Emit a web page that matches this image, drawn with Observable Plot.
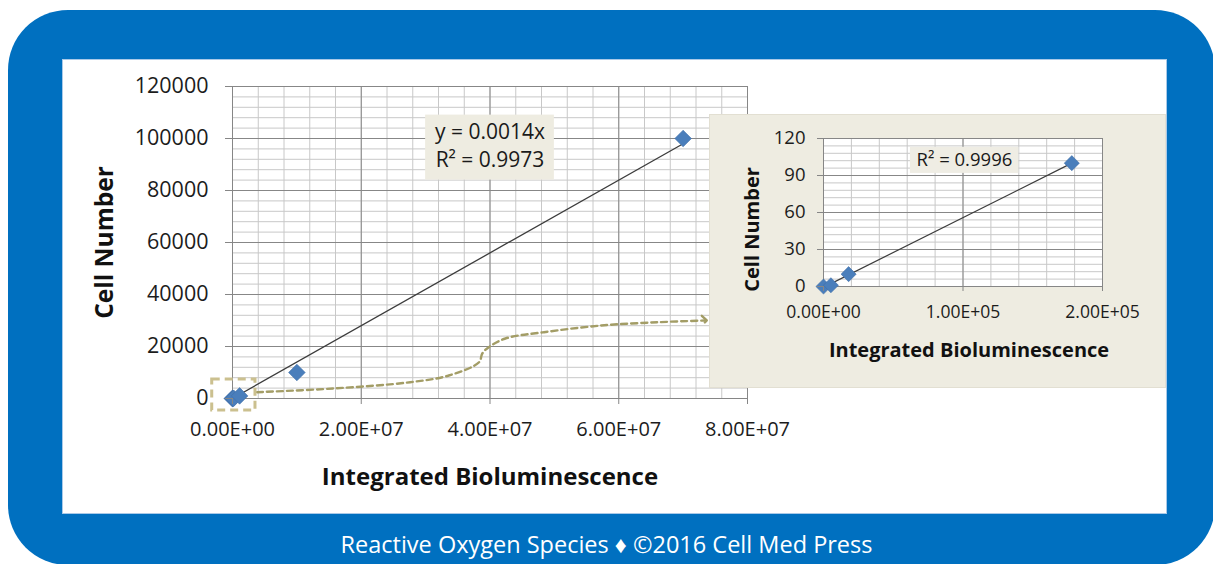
<!DOCTYPE html>
<html>
<head>
<meta charset="utf-8">
<script src="https://cdn.jsdelivr.net/npm/d3@7"></script>
<script src="https://cdn.jsdelivr.net/npm/@observablehq/plot@0.6"></script>
<style>
  html, body { margin: 0; padding: 0; background: #ffffff; }
  #page { position: relative; width: 1213px; height: 564px; overflow: hidden; font-family: "Open Sans", sans-serif; background: #ffffff; }
  #frame { position: absolute; left: 8px; top: 10px; width: 1207px; height: 555px; background: #0070C0; border-radius: 60px; }
  #inner { position: absolute; left: 63px; top: 60px; width: 1103px; height: 453px; background: #ffffff; box-shadow: 0 0 0 1px #a9c9e8; }
  #main { position: absolute; left: 63px; top: 60px; width: 700px; height: 440px; }
  #inset { position: absolute; left: 710px; top: 115px; width: 455px; height: 272px; background: #EEECE1; box-shadow: 0 0 0 1px #e2dfd2; }
  #caption { position: absolute; left: 0; top: 528px; width: 1213px; text-align: center; color: #ffffff; font-size: 23.5px; line-height: 32px; font-family: "Open Sans", sans-serif; }
</style>
</head>
<body>
<div id="page">
  <div id="frame"></div>
  <div id="inner"></div>
  <div id="main"></div>
  <div id="inset"></div>
  <div id="caption">Reactive Oxygen Species ♦ ©2016 Cell Med Press</div>
</div>
<script>
// ---- data ----
const mainBio   = [0, 5300, 18000, 178000, 1100000, 10000000, 70000000];
const mainCells = [0, 1, 10, 100, 1000, 10000, 100000];
const insetBio   = [0, 5300, 18000, 178000];
const insetCells = [0, 1, 10, 100];

const mainXTicks = [0, 2e7, 4e7, 6e7, 8e7];
const mainXTickLabels = ["0.00E+00", "2.00E+07", "4.00E+07", "6.00E+07", "8.00E+07"];
const mainYTicks = [0, 20000, 40000, 60000, 80000, 100000, 120000];
const mainYTickLabels = ["0", "20000", "40000", "60000", "80000", "100000", "120000"];
const insetXTicks = [0, 1e5, 2e5];
const insetXTickLabels = ["0.00E+00", "1.00E+05", "2.00E+05"];
const insetYTicks = [0, 30, 60, 90, 120];
const insetYTickLabels = ["0", "30", "60", "90", "120"];

const mainSlope = 0.0014;
const mainEquationLines = ["y = 0.0014x", "R² = 0.9973"];
const insetEquationLines = ["R² = 0.9996"];

const xTitle = "Integrated Bioluminescence";
const yTitle = "Cell Number";

// annotation anchors (data units of the main chart)
const mainLabelBox = {x1: 3.0e7, x2: 5.0e7, y1: 84000, y2: 109000};
const mainLabelAnchors = [{x: 4.0e7, y: 102400}, {x: 4.0e7, y: 91500}];
const zoomBox = {x1: -3.15e6, x2: 3.57e6, y1: -4600, y2: 7300};
const calloutPath = [
  [3.81e6, 2420], [1.57e7, 3850], [2.76e7, 6270], [3.36e7, 8850], [3.83e7, 13960],
  [3.88e7, 17300], [3.98e7, 19730], [4.24e7, 23080], [4.84e7, 25500], [5.73e7, 28080],
  [6.62e7, 29350], [7.33e7, 30000]
];
// annotation anchors (data units of the inset)
const insetLabelBox = {x1: 6.23e4, x2: 1.40e5, y1: 91.7, y2: 112.9};
const insetLabelAnchor = {x: 1.01e5, y: 102.3};

// ---- build tables ----
const mainData = mainBio.map((b, i) => ({bio: b, cells: mainCells[i]}));
const insetData = insetBio.map((b, i) => ({bio: b, cells: insetCells[i]}));
const maxBio = d3.max(mainBio);
const trend = [{bio: 0, cells: 0}, {bio: maxBio, cells: maxBio * mainSlope}];

const mainXMinor = d3.range(0, 8e7 + 1, 4e6);
const mainYMinor = d3.range(0, 120000 + 1, 4000);
const insetXMinor = d3.range(0, 2e5 + 1, 2e4);
const insetYMinor = d3.range(0, 120 + 0.1, 6);

const font = "'Open Sans', sans-serif";
const minorGrid = "#c8c8c8";
const majorGrid = "#878787";
const axisGray = "#868686";
const markerBlue = "#4A7EBB";

const mainPlot = Plot.plot({
  width: 700,
  height: 440,
  marginLeft: 169,
  marginRight: 16,
  marginTop: 26,
  marginBottom: 102,
  style: {fontFamily: font, background: "transparent", overflow: "visible"},
  x: {domain: [0, 8e7]},
  y: {domain: [0, 120000]},
  marks: [
    Plot.gridX(mainXMinor, {stroke: minorGrid, strokeOpacity: 1}),
    Plot.gridY(mainYMinor, {stroke: minorGrid, strokeOpacity: 1}),
    Plot.gridX(mainXTicks, {stroke: majorGrid, strokeOpacity: 1}),
    Plot.gridY(mainYTicks, {stroke: majorGrid, strokeOpacity: 1}),
    Plot.ruleX([0], {stroke: axisGray}),
    Plot.ruleY([0], {stroke: axisGray}),
    Plot.rect([mainLabelBox], {x1: "x1", x2: "x2", y1: "y1", y2: "y2", fill: "#EEECE1"}),
    Plot.text(mainEquationLines, {x: (d, i) => mainLabelAnchors[i].x, y: (d, i) => mainLabelAnchors[i].y, text: d => d, fontSize: 21, fill: "#1a1a1a"}),
    Plot.line(calloutPath, {curve: "catmull-rom", stroke: "#A39D66", strokeWidth: 2.4, strokeDasharray: "6,4", markerEnd: "arrow"}),
    Plot.rect([zoomBox], {x1: "x1", x2: "x2", y1: "y1", y2: "y2", fill: "none", stroke: "#CBC08F", strokeWidth: 3, strokeDasharray: "8,5"}),
    Plot.line(trend, {x: "bio", y: "cells", stroke: "#3c3c3c", strokeWidth: 1.3}),
    Plot.dot(mainData, {x: "bio", y: "cells", symbol: "diamond2", r: 7.5, fill: markerBlue, stroke: "#3f6fa8", strokeWidth: 0.6}),
    Plot.axisY(mainYTicks, {tickSize: 7, tickPadding: 17, fontSize: 21.5, stroke: axisGray, fill: "#1c1c1c", label: null,
      tickFormat: d => mainYTickLabels[mainYTicks.indexOf(d)]}),
    Plot.axisX(mainXTicks, {tickSize: 6, tickPadding: 17, fontSize: 20, stroke: axisGray, fill: "#1c1c1c", label: null,
      tickFormat: d => mainXTickLabels[mainXTicks.indexOf(d)]}),
    Plot.text([xTitle], {frameAnchor: "bottom", lineAnchor: "middle", textAnchor: "middle", dy: 79, fontSize: 24, fontWeight: "bold", fill: "#111"}),
    Plot.text([yTitle], {frameAnchor: "left", lineAnchor: "middle", textAnchor: "middle", dx: -127, rotate: -90, fontSize: 24.5, fontWeight: "bold", fill: "#111"})
  ]
});
document.getElementById("main").appendChild(mainPlot);

const insetPlot = Plot.plot({
  width: 455,
  height: 272,
  marginLeft: 113,
  marginRight: 63,
  marginTop: 23,
  marginBottom: 101,
  style: {fontFamily: font, background: "transparent", overflow: "visible"},
  x: {domain: [0, 2e5]},
  y: {domain: [0, 120]},
  marks: [
    Plot.frame({fill: "#ffffff", stroke: null}),
    Plot.gridX(insetXMinor, {stroke: minorGrid, strokeOpacity: 1}),
    Plot.gridY(insetYMinor, {stroke: minorGrid, strokeOpacity: 1}),
    Plot.gridX(insetXTicks, {stroke: majorGrid, strokeOpacity: 1}),
    Plot.gridY(insetYTicks, {stroke: majorGrid, strokeOpacity: 1}),
    Plot.ruleX([0], {stroke: axisGray}),
    Plot.ruleY([0], {stroke: axisGray}),
    Plot.rect([insetLabelBox], {x1: "x1", x2: "x2", y1: "y1", y2: "y2", fill: "#EFEDE4"}),
    Plot.text(insetEquationLines, {x: insetLabelAnchor.x, y: insetLabelAnchor.y, text: d => d, fontSize: 18.5, fill: "#1a1a1a"}),
    Plot.linearRegressionY(insetData, {x: "bio", y: "cells", ci: 0, stroke: "#3c3c3c", strokeWidth: 1.2}),
    Plot.dot(insetData, {x: "bio", y: "cells", symbol: "diamond2", r: 6.8, fill: markerBlue, stroke: "#3f6fa8", strokeWidth: 0.6}),
    Plot.axisY(insetYTicks, {tickSize: 6, tickPadding: 12, fontSize: 18.5, stroke: axisGray, fill: "#1c1c1c", label: null,
      tickFormat: d => insetYTickLabels[insetYTicks.indexOf(d)]}),
    Plot.axisX(insetXTicks, {tickSize: 5, tickPadding: 14, fontSize: 17.5, stroke: axisGray, fill: "#1c1c1c", label: null,
      tickFormat: d => insetXTickLabels[insetXTicks.indexOf(d)]}),
    Plot.text([xTitle], {frameAnchor: "bottom", lineAnchor: "middle", textAnchor: "middle", dx: 6, dy: 64, fontSize: 20, fontWeight: "bold", fill: "#111"}),
    Plot.text([yTitle], {frameAnchor: "left", lineAnchor: "middle", textAnchor: "middle", dx: -71, dy: 17, rotate: -90, fontSize: 20, fontWeight: "bold", fill: "#111"})
  ]
});
document.getElementById("inset").appendChild(insetPlot);
</script>
</body>
</html>
